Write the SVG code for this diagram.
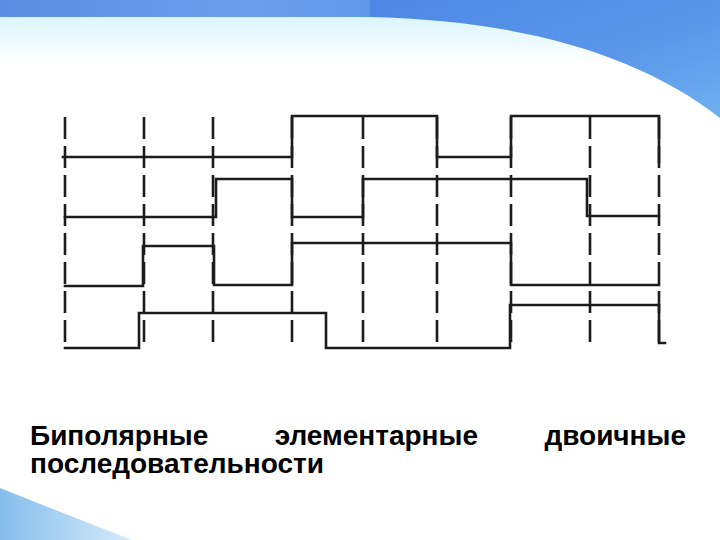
<svg xmlns="http://www.w3.org/2000/svg" width="720" height="540" viewBox="0 0 720 540">
  <defs>
    <linearGradient id="topBand" x1="0" y1="0" x2="1" y2="0">
      <stop offset="0" stop-color="#5a8de3"/>
      <stop offset="0.35" stop-color="#6aa0ea"/>
      <stop offset="0.6" stop-color="#5b94e8"/>
      <stop offset="1" stop-color="#4f88e4"/>
    </linearGradient>
    <linearGradient id="haze" x1="0" y1="0" x2="0" y2="1">
      <stop offset="0" stop-color="#dcf5fb"/>
      <stop offset="0.6" stop-color="#eefbfd"/>
      <stop offset="1" stop-color="#ffffff"/>
    </linearGradient>
    <linearGradient id="swoosh" x1="0" y1="0" x2="1" y2="0">
      <stop offset="0" stop-color="#86bdec"/>
      <stop offset="1" stop-color="#d6ebfa"/>
    </linearGradient>
    <linearGradient id="rightBlue" x1="0" y1="0" x2="1" y2="1">
      <stop offset="0" stop-color="#4d87e4"/>
      <stop offset="0.6" stop-color="#5b98ea"/>
      <stop offset="1" stop-color="#6fb0ef"/>
    </linearGradient>
    <style>
      .sig { fill: none; stroke: #1c1c1c; stroke-width: 2.6; stroke-linejoin: miter; stroke-linecap: square; }
      .grid { fill: none; stroke: #1c1c1c; stroke-width: 2.6; stroke-dasharray: 22 7; }
      .cap { font-family: "Liberation Sans", Arial, sans-serif; font-weight: bold; font-size: 28px; fill: #000; }
    </style>
  </defs>

  <g id="background">
    <rect x="0" y="0" width="720" height="540" fill="#ffffff"/>
    <rect x="0" y="17" width="720" height="45" fill="url(#haze)"/>
    <rect x="0" y="0" width="720" height="17" fill="url(#topBand)"/>
    <path d="M370 17 C 520 20, 640 55, 720 118 L720 0 L370 0 Z" fill="url(#rightBlue)"/>
    <path d="M0 488 Q 60 512 132 540 L0 540 Z" fill="url(#swoosh)"/>
  </g>

  <g id="grid-lines">
    <line class="grid" x1="65" y1="117" x2="65" y2="343"/>
    <line class="grid" x1="144" y1="117" x2="144" y2="343"/>
    <line class="grid" x1="213" y1="117" x2="213" y2="343"/>
    <line class="grid" x1="292" y1="117" x2="292" y2="343"/>
    <line class="grid" x1="363" y1="117" x2="363" y2="343"/>
    <line class="grid" x1="437" y1="117" x2="437" y2="343"/>
    <line class="grid" x1="511" y1="117" x2="511" y2="343"/>
    <line class="grid" x1="590" y1="117" x2="590" y2="343"/>
    <line class="grid" x1="659" y1="117" x2="659" y2="343"/>
  </g>

  <g id="signal-1">
    <polyline class="sig" points="63,157 292,157 292,116 437,116 437,157 511,157 511,116 659,116 659,162"/>
  </g>
  <g id="signal-2">
    <polyline class="sig" points="65,217 216,217 216,179 292,179 292,217 363,217 363,179 587,179 587,216 659,216"/>
  </g>
  <g id="signal-3">
    <polyline class="sig" points="65,286 143,286 143,246 214,246 214,285 292,285 292,243 511,243 511,285 659,285"/>
  </g>
  <g id="signal-4">
    <polyline class="sig" points="65,348 139,348 139,313 326,313 326,348 510,348 510,305 659,305 659,343 665,343"/>
  </g>

  <g id="caption">
    <text class="cap" x="30" y="445">Биполярные</text>
    <text class="cap" x="478" y="445" text-anchor="end">элементарные</text>
    <text class="cap" x="686" y="445" text-anchor="end">двоичные</text>
    <text class="cap" x="30" y="473">последовательности</text>
  </g>
</svg>
